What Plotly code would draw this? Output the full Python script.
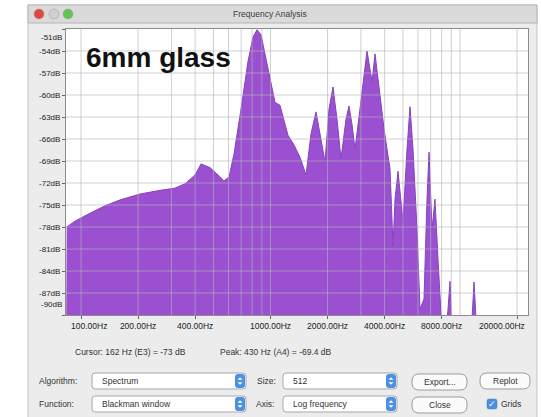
import math
import plotly.graph_objects as go

# Spectrum envelope: frequency (Hz) and level (dB)
freq_hz = [84, 93, 112, 134, 161, 205, 261, 313, 354, 400,
           430, 479, 528, 568, 604, 642, 699, 761, 808, 849,
           891, 947, 1006, 1056, 1122, 1178, 1237, 1330, 1431, 1539,
           1636, 1738, 1825, 1939, 2036, 2137, 2243, 2355, 2502, 2595,
           2692, 2792, 2931, 3077, 3230, 3350, 3433, 3561, 3693, 3830,
           3972, 4120, 4273, 4431, 4540, 4709, 5003, 5252, 5447, 5649,
           5931, 6151, 6457, 6697, 6862, 7117, 7381, 7655, 7939, 8437,
           8857, 9076, 11430, 11860, 12290, 22050]
level_db = [-78.0, -77.2, -76.1, -75.1, -74.3, -73.5, -73.0, -72.7, -72.1, -70.9,
            -69.4, -69.9, -70.9, -71.7, -71.2, -68.0, -61.9, -55.4, -52.1, -51.1,
            -51.8, -55.1, -58.1, -61.0, -61.4, -63.3, -65.5, -66.8, -68.5, -70.9,
            -65.3, -62.3, -65.3, -69.1, -61.9, -58.9, -63.3, -68.7, -63.3, -61.5,
            -64.0, -67.4, -63.0, -58.5, -54.0, -56.5, -58.2, -54.4, -57.8, -61.9,
            -64.6, -67.4, -70.1, -80.6, -74.2, -70.4, -77.3, -67.4, -61.6, -67.4,
            -78.3, -89.2, -87.8, -74.2, -67.8, -78.3, -74.2, -82.4, -89.9, -93.0,
            -85.4, -93.0, -93.0, -85.5, -93.0, -93.0]

# Axis labels
x_tick_hz = [100, 200, 400, 1000, 2000, 4000, 8000, 20000]
x_tick_text = ["100.00Hz", "200.00Hz", "400.00Hz", "1000.00Hz", "2000.00Hz",
               "4000.00Hz", "8000.00Hz", "20000.00Hz"]
y_tick_db = [-51, -54, -57, -60, -63, -66, -69, -72, -75, -78, -81, -84, -87, -90]
y_tick_text = ["%ddB" % v for v in y_tick_db]

# Log grid: 1..9 per decade
grid_hz = [m * 10 ** e for e in (2, 3) for m in range(1, 10)] + [10000, 20000]

X_MIN_HZ, X_MAX_HZ = 83.3, 22850
Y_MIN, Y_MAX = -90, -51
FLOOR = -95

W, H = 541, 417
PL, PR, PT, PB = 66, 528, 29, 315  # plot area in pixels


def px(x):
    return (x - PL) / (PR - PL)


def py(y):
    return (PB - y) / (PB - PT)


def rrect_path(x0, y0, x1, y1, r):
    segs = [("M", [(x0 + r, y0)]), ("L", [(x1 - r, y0)]),
            ("Q", [(x1, y0), (x1, y0 + r)]), ("L", [(x1, y1 - r)]),
            ("Q", [(x1, y1), (x1 - r, y1)]), ("L", [(x0 + r, y1)]),
            ("Q", [(x0, y1), (x0, y1 - r)]), ("L", [(x0, y0 + r)]),
            ("Q", [(x0, y0), (x0 + r, y0)])]
    out = []
    for cmd, pts in segs:
        out.append(cmd + " " + " ".join("%.5f,%.5f" % (px(a), py(b)) for a, b in pts))
    return " ".join(out) + " Z"


def tri_path(cx, cy, up):
    d = -1 if up else 1
    pts = [(cx - 2.5, cy), (cx + 2.5, cy), (cx, cy + 2.5 * d)]
    return "M " + " L ".join("%.5f,%.5f" % (px(a), py(b)) for a, b in pts) + " Z"


fig = go.Figure()
fig.add_trace(go.Scatter(x=[X_MIN_HZ, X_MAX_HZ], y=[FLOOR, FLOOR], mode="lines",
                         line=dict(width=0), hoverinfo="skip", showlegend=False))
fig.add_trace(go.Scatter(x=freq_hz, y=level_db, mode="lines", fill="tonexty",
                         fillcolor="rgb(154,80,208)",
                         line=dict(color="rgb(135,66,192)", width=1),
                         showlegend=False))

shapes = []
UI_FONT = "Liberation Sans"

# window body and title bar
shapes.append(dict(type="rect", xref="paper", yref="paper", layer="below",
                   x0=px(28), x1=px(537), y0=py(5), y1=py(420),
                   fillcolor="#ececec", line=dict(color="#c4c4c4", width=1)))
shapes.append(dict(type="rect", xref="paper", yref="paper", layer="below",
                   x0=px(28), x1=px(537), y0=py(5), y1=py(23),
                   fillcolor="#dadada", line=dict(color="#b4b4b4", width=1)))
for cx, col in ((39, "#e2463f"), (54, "#cfcfcf"), (68, "#62c554")):
    shapes.append(dict(type="circle", xref="paper", yref="paper", layer="below",
                       x0=px(cx - 5), x1=px(cx + 5), y0=py(9), y1=py(19),
                       fillcolor=col, line=dict(color="#9a9a9a", width=0.5)))
# plot background
shapes.append(dict(type="rect", xref="paper", yref="paper", layer="below",
                   x0=0, x1=1, y0=0, y1=1, fillcolor="white", line=dict(width=0)))

# grid drawn over the spectrum
GRID = "rgba(180,180,180,0.62)"
for g in grid_hz:
    shapes.append(dict(type="line", xref="x", yref="paper", layer="above",
                       x0=g, x1=g, y0=0, y1=1, line=dict(color=GRID, width=1)))
for v in y_tick_db[1:-1]:
    shapes.append(dict(type="line", xref="paper", yref="y", layer="above",
                       x0=0, x1=1, y0=v, y1=v, line=dict(color=GRID, width=1)))

annotations = []


def label(x, y, text, size=8.5, anchor="left", color="#333333"):
    annotations.append(dict(xref="paper", yref="paper", x=px(x), y=py(y),
                            text=text, showarrow=False, xanchor=anchor,
                            yanchor="middle",
                            font=dict(family=UI_FONT, size=size, color=color)))


def dropdown(x0, x1, y0, y1, text):
    shapes.append(dict(type="path", xref="paper", yref="paper", layer="below",
                       path=rrect_path(x0, y0, x1, y1, 3), fillcolor="white",
                       line=dict(color="#a8a8a8", width=1)))
    shapes.append(dict(type="path", xref="paper", yref="paper", layer="below",
                       path=rrect_path(x1 - 11, y0 + 1, x1 - 1, y1 - 1, 3),
                       fillcolor="#4d8fe0", line=dict(width=0)))
    cy = (y0 + y1) / 2
    for up in (True, False):
        shapes.append(dict(type="path", xref="paper", yref="paper", layer="below",
                           path=tri_path(x1 - 6, cy - 1.2 if up else cy + 1.2, up),
                           fillcolor="white", line=dict(width=0)))
    label(x0 + 8, cy, text)


def button(x0, x1, y0, y1, text):
    shapes.append(dict(type="path", xref="paper", yref="paper", layer="below",
                       path=rrect_path(x0, y0, x1, y1, 7), fillcolor="#fbfbfb",
                       line=dict(color="#9c9c9c", width=1)))
    label((x0 + x1) / 2, (y0 + y1) / 2, text, anchor="center")


label(270, 14, "Frequency Analysis", size=8.5, anchor="center", color="#3a3a3a")

# in-plot caption
annotations.append(dict(xref="paper", yref="paper", x=px(84), y=py(58),
                        text="6mm glass", showarrow=False, xanchor="left",
                        yanchor="middle",
                        font=dict(family=UI_FONT, size=28, color="#111111",
                                  weight="bold")))

# end labels of the rulers sit inside the ruler extent
label(64, 37.5, y_tick_text[0], size=8, anchor="right", color="#222222")
label(64, 304, y_tick_text[-1], size=8, anchor="right", color="#222222")
label(89, 326, x_tick_text[0], size=8.5, anchor="center", color="#222222")
label(502, 326, x_tick_text[-1], size=8.5, anchor="center", color="#222222")

# status line
label(73, 352, "Cursor: 162 Hz (E3) = -73 dB", size=8.5)
label(218, 352, "Peak: 430 Hz (A4) = -69.4 dB", size=8.5)

# controls
label(37, 381, "Algorithm:")
dropdown(92, 246, 373, 389, "Spectrum")
label(255, 381, "Size:")
dropdown(283, 397, 373, 389, "512")
button(412, 467, 374, 390, "Export...")
button(480, 530, 373, 389, "Replot")

label(37, 404, "Function:")
dropdown(92, 246, 396, 412, "Blackman window")
label(254, 404, "Axis:")
dropdown(283, 397, 396, 412, "Log frequency")
button(412, 467, 397, 413, "Close")
shapes.append(dict(type="path", xref="paper", yref="paper", layer="below",
                   path=rrect_path(487, 399, 497, 409, 2), fillcolor="#4d8fe0",
                   line=dict(color="#3f7fcf", width=0.5)))
label(492, 404, "✓", size=9, anchor="center", color="white")
label(499, 404, "Grids")

fig.update_layout(
    width=W, height=H, autosize=False,
    margin=dict(l=PL, r=W - PR, t=PT, b=H - PB, pad=0),
    paper_bgcolor="white", plot_bgcolor="white",
    shapes=shapes, annotations=annotations,
    xaxis=dict(type="log", range=[math.log10(X_MIN_HZ), math.log10(X_MAX_HZ)],
               showgrid=False, zeroline=False, showline=True, mirror=True,
               linecolor="#8c8c8c", linewidth=1, ticks="outside", ticklen=3,
               tickcolor="#666666", tickvals=x_tick_hz,
               ticktext=[""] + x_tick_text[1:-1] + [""],
               tickfont=dict(family=UI_FONT, size=8.5, color="#222222"),
               layer="above traces"),
    yaxis=dict(range=[Y_MIN, Y_MAX], showgrid=False, zeroline=False,
               showline=True, mirror=True, linecolor="#8c8c8c", linewidth=1,
               ticks="outside", ticklen=3, tickcolor="#666666",
               tickvals=y_tick_db, ticktext=[""] + y_tick_text[1:-1] + [""],
               tickfont=dict(family=UI_FONT, size=8, color="#222222"),
               layer="above traces"),
)

fig.write_html("out.html")
